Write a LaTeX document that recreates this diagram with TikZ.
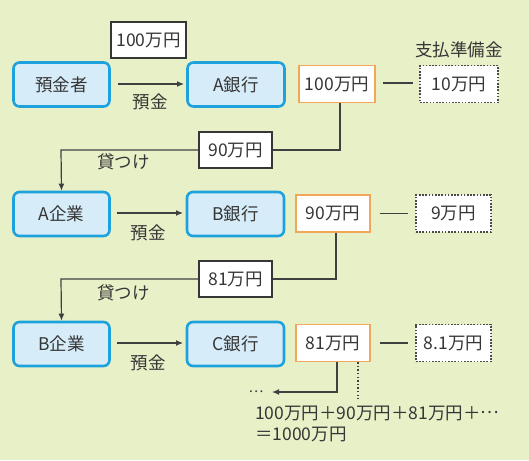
\documentclass[tikz,border=0pt]{standalone}
\usepackage{fontspec}
\setmainfont{Noto Sans CJK JP}
\usetikzlibrary{arrows.meta}
\definecolor{bg}{HTML}{E8F0C8}
\definecolor{bluefill}{HTML}{D6ECF8}
\definecolor{blueline}{HTML}{1EA2DE}
\definecolor{orangeline}{HTML}{F2A65A}
\definecolor{ink}{HTML}{363636}
\definecolor{lineink}{HTML}{404040}
\newcommand{\midell}{\raisebox{0.32em}{…}}
\tikzset{
  txt/.style={font=\fontsize{17.5}{21}\selectfont, text=ink, inner sep=0pt},
  party/.style={txt, draw=blueline, line width=2.6pt, fill=bluefill, rounded corners=6pt, minimum width=#1, minimum height=44pt},
  money/.style={txt, draw=orangeline, line width=1.3pt, fill=white, minimum width=#1, minimum height=37pt},
  loanbox/.style={txt, draw=ink, line width=1.2pt, fill=white, minimum width=#1, minimum height=36pt},
  reserve/.style={txt, draw=ink!90, line width=1.6pt, dash pattern=on 1.6pt off 1.6pt, fill=white, minimum width=#1, minimum height=37pt},
  conn/.style={draw=lineink, line width=1.2pt},
  arr/.style={conn, -{Latex[length=7pt,width=6pt]}},
}
\begin{document}
\begin{tikzpicture}[x=1pt,y=-1pt]
\useasboundingbox (0,0) rectangle (529,460);
\fill[bg] (0,0) rectangle (529,460);

% row 1
\node[party=96pt] (dep) at (61.5,84.5) {預金者};
\node[party=97pt] (bankA) at (236,84.5) {A銀行};
\node[money=76pt] (m1) at (337,84) {100万円};
\node[reserve=78pt] (r1) at (459,84) {10万円};
\node[txt] (reslabel) at (459,50) {支払準備金};
\node[loanbox=75pt] (top) at (148.5,40) {100万円};
\draw[arr] (118,84) coordinate (a1s) -- (184,84) coordinate (a1e);
\node[txt] (dl1) at (150,102) {預金};
\draw[conn] (383,83) coordinate (l1s) -- (413,83) coordinate (l1e);

% loan 1
\node[loanbox=73pt] (loan1) at (235.5,150) {90万円};
\node[txt] (kl1) at (123.5,162) {貸つけ};
\draw[conn] (m1.south -| 340,0) |- (loan1.east);
\coordinate (c1) at (61,150);

% row 2
\node[party=96pt] (firmA) at (61.5,214) {A企業};
\node[party=97pt] (bankB) at (235.5,214) {B銀行};
\node[money=74pt] (m2) at (333,213.5) {90万円};
\node[reserve=75pt] (r2) at (453.5,213.5) {9万円};
\draw[arr] (loan1.west) -- (c1) -- (firmA.north);
\draw[arr] (117,213) -- (183,213);
\node[txt] (dl2) at (148,233) {預金};
\draw[conn] (m2.east) ++(9,0) -- ++(28,0);

% loan 2
\node[loanbox=73pt] (loan2) at (235.5,279) {81万円};
\node[txt] (kl2) at (123.5,293) {貸つけ};
\draw[conn] (m2.south -| 336,0) |- (loan2.east);
\coordinate (c2) at (61,279);

% row 3
\node[party=96pt] (firmB) at (61.5,344) {B企業};
\node[party=97pt] (bankC) at (235.5,344) {C銀行};
\node[money=74pt] (m3) at (333,343) {81万円};
\node[reserve=75pt] (r3) at (453.5,343) {8.1万円};
\draw[arr] (loan2.west) -- (c2) -- (firmB.north);
\draw[arr] (117,343) -- (183,343);
\node[txt] (dl3) at (148,363) {預金};
\draw[conn] (m3.east) ++(9,0) -- ++(28,0);

% bottom
\coordinate (b1) at (337,392);
\node[txt, font=\fontsize{14}{17}\selectfont] (dots) at (256,392) {…};
\draw[arr] (m3.south -| 337,0) -- (b1) -- (272,392);
\draw[draw=lineink, line width=1.4pt, dash pattern=on 1.4pt off 2.2pt] (m3.south -| 358,0) -- (358,399);
\node[txt, anchor=west] (sum1) at (255,413) {100万円＋90万円＋81万円＋\midell};
\node[txt, anchor=west] (sum2) at (255,434) {＝1000万円};
\end{tikzpicture}
\end{document}
